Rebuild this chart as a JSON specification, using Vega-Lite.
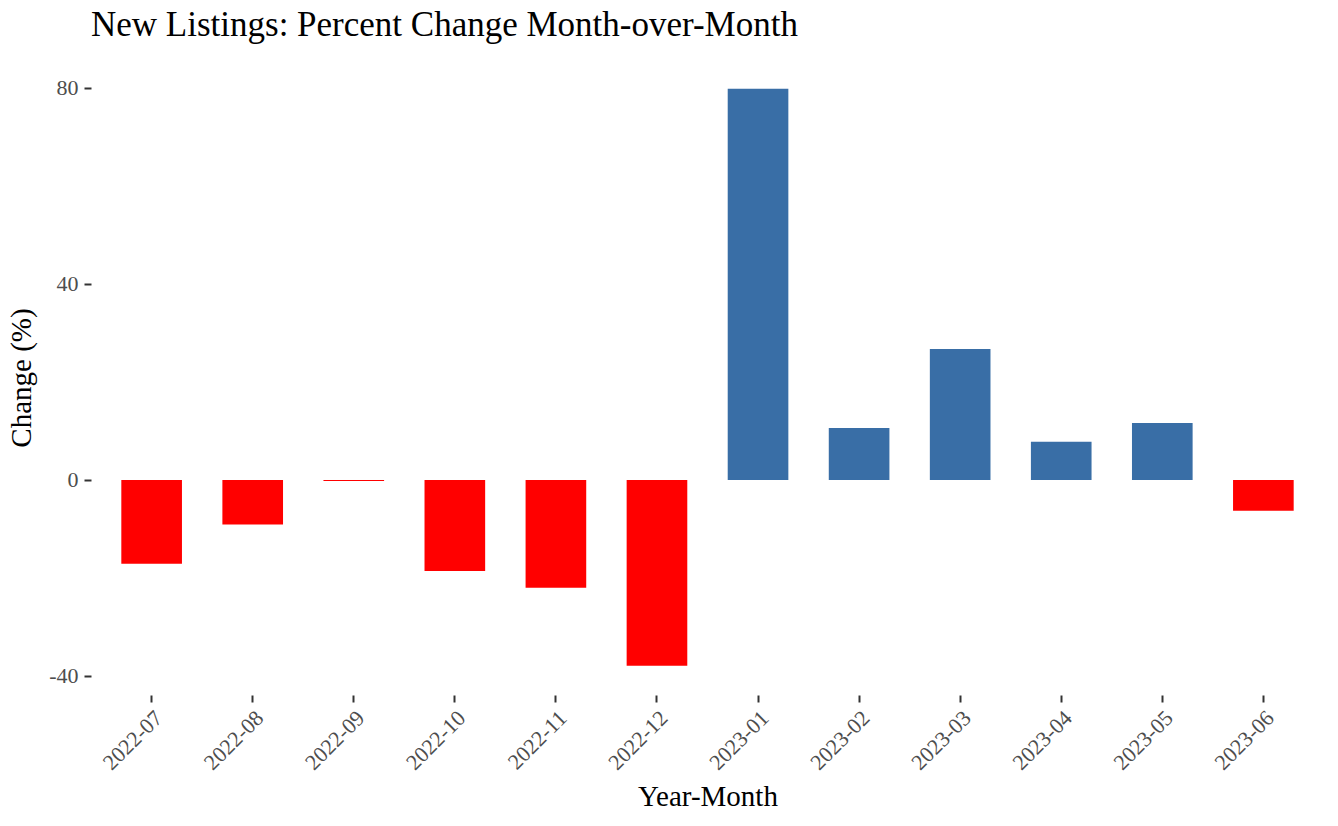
{
  "$schema": "https://vega.github.io/schema/vega-lite/v6.json",
  "autosize": "none",
  "padding": {"left": 91, "top": 60, "right": 14, "bottom": 131},
  "width": 1233,
  "height": 635,
  "background": "white",
  "config": {
    "view": {"stroke": null},
    "font": "Liberation Serif",
    "axis": {"grid": false, "domain": false, "labelFont": "Liberation Serif", "titleFont": "Liberation Serif", "labelColor": "#4D4D4D", "tickColor": "#333333", "tickWidth": 2, "tickSize": 7, "titleColor": "black", "titleFontWeight": "normal", "labelFontSize": 22, "titleFontSize": 29}
  },
  "title": {"text": "New Listings: Percent Change Month-over-Month", "anchor": "start", "frame": "group", "font": "Liberation Serif", "fontSize": 35, "fontWeight": "normal", "color": "black", "baseline": "alphabetic", "offset": -11},
  "data": {"values": [
    {"month": "2022-07", "change": -17.1},
    {"month": "2022-08", "change": -9.1},
    {"month": "2022-09", "change": -0.2},
    {"month": "2022-10", "change": -18.6},
    {"month": "2022-11", "change": -22.0},
    {"month": "2022-12", "change": -37.9},
    {"month": "2023-01", "change": 79.8},
    {"month": "2023-02", "change": 10.6},
    {"month": "2023-03", "change": 26.7},
    {"month": "2023-04", "change": 7.8},
    {"month": "2023-05", "change": 11.6},
    {"month": "2023-06", "change": -6.3}
  ]},
  "mark": {"type": "bar"},
  "encoding": {
    "x": {"field": "month", "type": "ordinal", "title": "Year-Month",
      "scale": {"paddingInner": 0.4, "paddingOuter": 0.3},
      "axis": {"labelAngle": -45, "labelAlign": "right", "labelBaseline": "top", "labelPadding": 5, "titlePadding": 9}},
    "y": {"field": "change", "type": "quantitative", "title": "Change (%)",
      "scale": {"domain": [-43.89, 85.69], "nice": false, "zero": false},
      "axis": {"values": [-40, 0, 40, 80], "labelExpr": "toString(datum.value)", "labelPadding": 6, "titlePadding": 12}},
    "color": {"condition": {"test": "datum.change < 0", "value": "#FF0000"}, "value": "#396EA6"}
  }
}
